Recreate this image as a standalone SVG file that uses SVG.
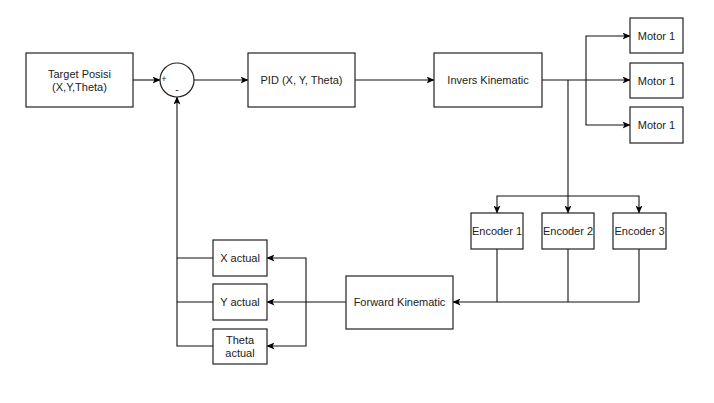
<svg xmlns="http://www.w3.org/2000/svg" width="714" height="403" viewBox="0 0 714 403">
  <defs>
    <marker id="arr" viewBox="0 0 8 7" refX="7.5" refY="3.5" markerWidth="8" markerHeight="7" markerUnits="userSpaceOnUse" orient="auto">
      <path d="M0,0 L8,3.5 L0,7 L2,3.5 z" fill="#000"/>
    </marker>
  </defs>
  <style>
    .box { fill: #fff; stroke: #222; stroke-width: 1.2; }
    .lbl { font-family: "Liberation Sans", Arial, sans-serif; font-size: 11px; fill: #222; text-anchor: middle; dominant-baseline: central; }
    .ln { fill: none; stroke: #111; stroke-width: 1.1; }
    .ar { marker-end: url(#arr); }
  </style>
  <rect width="714" height="403" fill="#fff"/>

  <g id="connectors">
    <path class="ln ar" d="M133,80 H160"/>
    <path class="ln ar" d="M194,80 H248"/>
    <path class="ln ar" d="M355,80 H434"/>
    <path class="ln ar" d="M542,80 H630"/>
    <path class="ln ar" d="M586,80 V36 H630"/>
    <path class="ln ar" d="M586,80 V125 H630"/>
    <path class="ln" d="M568,80 V196"/>
    <path class="ln ar" d="M568,196 V213"/>
    <path class="ln ar" d="M568,196 H497 V213"/>
    <path class="ln ar" d="M568,196 H639 V213"/>
    <path class="ln" d="M497,249 V302"/>
    <path class="ln" d="M568,249 V302"/>
    <path class="ln ar" d="M639,249 V302 H453"/>
    <path class="ln ar" d="M346,302 H267"/>
    <path class="ln ar" d="M306,302 V258 H267"/>
    <path class="ln ar" d="M306,302 V346 H267"/>
    <path class="ln" d="M213,258 H177"/>
    <path class="ln" d="M213,302 H177"/>
    <path class="ln ar" d="M213,346 H177 V97"/>
  </g>

  <g id="target">
    <rect class="box" x="26" y="53" width="107" height="54"/>
    <text class="lbl" x="79.5" y="74">Target Posisi</text>
    <text class="lbl" x="79.5" y="87">(X,Y,Theta)</text>
  </g>
  <g id="sum">
    <circle class="box" cx="177" cy="80" r="17"/>
    <text class="lbl" x="164" y="79" style="font-size:9px">+</text>
    <text class="lbl" x="177" y="89" style="font-size:10px">-</text>
  </g>
  <g id="pid">
    <rect class="box" x="248" y="53" width="107" height="54"/>
    <text class="lbl" x="301.5" y="80">PID (X, Y, Theta)</text>
  </g>
  <g id="invers">
    <rect class="box" x="434" y="53" width="108" height="54"/>
    <text class="lbl" x="488" y="80">Invers Kinematic</text>
  </g>
  <g id="motor-a">
    <rect class="box" x="630" y="18" width="53" height="35"/>
    <text class="lbl" x="656.5" y="35.5">Motor 1</text>
  </g>
  <g id="motor-b">
    <rect class="box" x="630" y="63" width="53" height="35"/>
    <text class="lbl" x="656.5" y="80.5">Motor 1</text>
  </g>
  <g id="motor-c">
    <rect class="box" x="630" y="107" width="53" height="36"/>
    <text class="lbl" x="656.5" y="125">Motor 1</text>
  </g>
  <g id="encoder1">
    <rect class="box" x="471" y="213" width="52" height="36"/>
    <text class="lbl" x="497" y="231">Encoder 1</text>
  </g>
  <g id="encoder2">
    <rect class="box" x="542" y="213" width="52" height="36"/>
    <text class="lbl" x="568" y="231">Encoder 2</text>
  </g>
  <g id="encoder3">
    <rect class="box" x="613" y="213" width="53" height="36"/>
    <text class="lbl" x="639.5" y="231">Encoder 3</text>
  </g>
  <g id="forward">
    <rect class="box" x="346" y="276" width="107" height="53"/>
    <text class="lbl" x="399.5" y="302">Forward Kinematic</text>
  </g>
  <g id="x-actual">
    <rect class="box" x="213" y="240" width="54" height="36"/>
    <text class="lbl" x="240" y="258">X actual</text>
  </g>
  <g id="y-actual">
    <rect class="box" x="213" y="284" width="54" height="36"/>
    <text class="lbl" x="240" y="302">Y actual</text>
  </g>
  <g id="theta-actual">
    <rect class="box" x="213" y="329" width="54" height="35"/>
    <text class="lbl" x="240" y="340">Theta</text>
    <text class="lbl" x="240" y="353">actual</text>
  </g>
</svg>
